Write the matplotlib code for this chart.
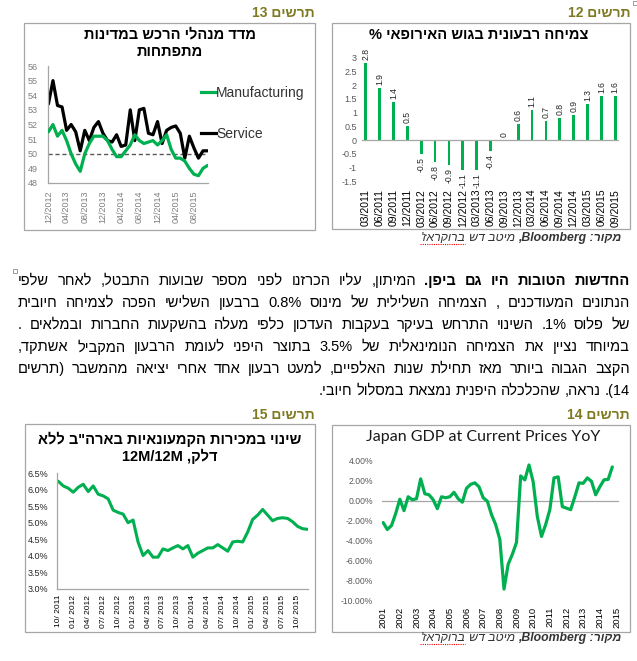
import re
import matplotlib
matplotlib.use('Agg')
import matplotlib.pyplot as plt
from matplotlib.patches import Rectangle
from matplotlib.lines import Line2D
from matplotlib.ticker import FuncFormatter

HEB = ['Liberation Sans', 'DejaVu Sans']
plt.rcParams['font.family'] = HEB

# ---------------- data ----------------
# Chart 13: PMI in emerging markets (monthly, 12/2012 .. 11/2015)
pmi_manufacturing = [51.5, 52.0, 51.2, 51.6, 50.9, 50.0, 49.3, 48.8, 50.0, 50.7,
                     51.2, 51.2, 51.2, 50.9, 50.3, 49.8, 49.8, 50.2, 50.6, 51.3,
                     50.9, 50.7, 50.8, 50.9, 50.6, 50.9, 51.3, 50.3, 49.7, 49.7,
                     49.5, 49.0, 48.6, 48.5, 49.0, 49.2]
pmi_service = [53.4, 55.0, 53.3, 53.2, 51.6, 52.0, 51.5, 50.2, 51.6, 50.9,
               51.8, 52.2, 51.4, 50.9, 50.8, 51.3, 50.5, 50.6, 53.0, 50.9,
               53.0, 53.1, 51.4, 51.3, 52.2, 50.7, 51.6, 51.8, 51.9, 51.4,
               49.7, 51.2, 50.4, 49.7, 50.2, 50.2]
pmi_tick_labels = ['12/2012', '04/2013', '08/2013', '12/2013', '04/2014',
                   '08/2014', '12/2014', '04/2015', '08/2015']
pmi_tick_every = 4
pmi_yticks = [48, 49, 50, 51, 52, 53, 54, 55, 56]
pmi_reference = 50

# Chart 12: Euro area quarterly growth
ez_quarters = ['03/2011', '06/2011', '09/2011', '12/2011', '03/2012', '06/2012',
               '09/2012', '12/2012', '03/2013', '06/2013', '09/2013', '12/2013',
               '03/2014', '06/2014', '09/2014', '12/2014', '03/2015', '06/2015',
               '09/2015']
ez_growth = [2.8, 1.9, 1.4, 0.5, -0.5, -0.8, -0.9, -1.1, -1.1, -0.4, 0,
             0.6, 1.1, 0.7, 0.8, 0.9, 1.3, 1.6, 1.6]
ez_yticks = [-1.5, -1, -0.5, 0, 0.5, 1, 1.5, 2, 2.5, 3]

# Chart 15: US retail sales ex fuel, 12M/12M (monthly, 10/2011 .. 12/2015)
retail_tick_labels = ['10/ 2011', '01/ 2012', '04/ 2012', '07/ 2012', '10/ 2012',
                      '01/ 2013', '04/ 2013', '07/ 2013', '10/ 2013', '01/ 2014',
                      '04/ 2014', '07/ 2014', '10/ 2014', '01/ 2015', '04/ 2015',
                      '07/ 2015', '10/ 2015']
retail_tick_every = 3
retail_growth = [6.25, 6.11, 6.04, 5.92, 6.07, 6.16, 5.94, 6.11, 5.86, 5.81,
                 5.72, 5.38, 5.31, 5.26, 5.00, 5.08, 4.42, 4.01, 4.16, 3.96,
                 3.96, 4.21, 4.16, 4.24, 4.31, 4.21, 4.31, 3.96, 4.08, 4.16,
                 4.24, 4.24, 4.34, 4.24, 4.14, 4.42, 4.44, 4.42, 4.72, 5.10,
                 5.23, 5.40, 5.23, 5.06, 5.13, 5.15, 5.13, 5.03, 4.89, 4.82,
                 4.80]
retail_yticks = [3.0, 3.5, 4.0, 4.5, 5.0, 5.5, 6.0, 6.5]

# Chart 14: Japan GDP at current prices YoY (quarterly, 2001Q1 ..)
gdp_years = ['2001', '2002', '2003', '2004', '2005', '2006', '2007', '2008',
             '2009', '2010', '2011', '2012', '2013', '2014', '2015']
gdp_tick_every = 4
japan_gdp = [-2.2, -2.9, -2.5, -1.3, 0.15, -1.0, 0.4, 0.1, 0.2, 2.2,
             0.7, 0.6, 0.1, -0.8, 0.4, 0.3, 0.4, 0.85, 0.2, -0.15,
             1.25, 1.65, 1.8, 1.4, 0.3, -0.05, -1.4, -2.4, -3.9, -8.9,
             -6.4, -5.4, -4.2, 2.5, 2.1, 3.6, 1.9, -1.6, -3.6, -2.4,
             -0.9, 2.3, 2.4, -0.6, -0.75, -0.9, 0.4, 1.8, 1.75, 2.3,
             1.95, 0.6, 1.4, 2.1, 2.15, 3.4]
gdp_yticks = [-10, -8, -6, -4, -2, 0, 2, 4]

# Texts
header13 = 'תרשים 13'
header12 = 'תרשים 12'
header15 = 'תרשים 15'
header14 = 'תרשים 14'
title13 = ['מדד מנהלי הרכש במדינות', 'מתפתחות']
title12 = 'צמיחה רבעונית בגוש האירופאי %'
title15 = ['שינוי במכירות הקמעונאיות בארה"ב ללא', 'דלק, 12M/12M']
title14 = 'Japan GDP at Current Prices YoY'
legend13 = ['Manufacturing', 'Service']
source_parts = ['מקור: Bloomberg,', 'מיטב דש', "ברוקראז'"]
para_bold = 'החדשות הטובות היו גם ביפן.'
para_lines = [
    'החדשות הטובות היו גם ביפן. המיתון, עליו הכרזנו לפני מספר שבועות התבטל, לאחר שלפי',
    'הנתונים המעודכנים , הצמיחה השלילית של מינוס 0.8% ברבעון השלישי הפכה לצמיחה חיובית',
    'של פלוס 1%. השינוי התרחש בעיקר בעקבות העדכון כלפי מעלה בהשקעות החברות ובמלאים .',
    'במיוחד נציין את הצמיחה הנומינאלית של 3.5% בתוצר היפני לעומת הרבעון המקביל אשתקד,',
    'הקצב הגבוה ביותר מאז תחילת שנות האלפיים, למעט רבעון אחד אחרי יציאה מהמשבר (תרשים',
    '14). נראה, שהכלכלה היפנית נמצאת במסלול חיובי.',
]

GREEN = '#00b050'
HEADER = '#7f7a22'
FRAME = '#a6a6a6'


def vis(s):
    """Logical (RTL) string -> visual order for left-to-right rendering."""
    toks = re.findall(r"[A-Za-z0-9](?:[A-Za-z0-9./%]*[A-Za-z0-9%])?|.", s)
    out = []
    for t in toks:
        if re.match(r"[A-Za-z0-9]", t):
            out.append(t)
        else:
            out.append({'(': ')', ')': '('}.get(t, t))
    return ''.join(reversed(out))


W, H = 637, 661
fig = plt.figure(figsize=(W / 100, H / 100), dpi=100)
fig.patch.set_facecolor('white')
renderer = fig.canvas.get_renderer()


def fx(x):
    return x / W


def fy(y):
    return 1 - y / H


def add_ax(l, t, r, b):
    ax = fig.add_axes([l / W, 1 - b / H, (r - l) / W, (b - t) / H])
    ax.set_facecolor('none')
    return ax


def frame(l, t, r, b):
    fig.patches.append(Rectangle((fx(l), fy(b)), (r - l) / W, (b - t) / H,
                                 transform=fig.transFigure, fill=False,
                                 ec=FRAME, lw=0.9))


def htext(x, y, s, **kw):
    return fig.text(fx(x), fy(y), vis(s), **kw)


def width_px(t):
    return t.get_window_extent(renderer).width


# ---------------- frames & headers ----------------
frame(24, 23, 315, 230)
frame(332, 23, 630, 229)
frame(25, 424, 315, 632)
frame(332, 425, 630, 632)

hkw = dict(fontsize=10, fontweight='bold', color=HEADER, ha='right', va='center')
htext(315, 13, header13, **hkw)
htext(630, 13, header12, **hkw)
htext(315, 415, header15, **hkw)
htext(630, 415, header14, **hkw)

tkw = dict(fontsize=10.5, fontweight='bold', color='black', ha='center', va='center')
htext(170, 34, title13[0], **tkw)
htext(170, 52, title13[1], **tkw)
htext(479, 35, title12, **tkw)
htext(170, 439, title15[0], **tkw)
htext(170, 456, title15[1], **tkw)
fig.text(fx(483), fy(437), title14, fontsize=11.5, family=['Lato', 'DejaVu Sans'],
         color='#1a1a1a', ha='center', va='center')

# ---------------- Chart 13 ----------------
ax = add_ax(47.5, 66, 208, 183)
xs = list(range(len(pmi_manufacturing)))
ax.axhline(pmi_reference, color='#595959', lw=1.0, ls=(0, (3, 2)), zorder=1)
l1, = ax.plot(xs, pmi_manufacturing, color=GREEN, lw=2.3,
              solid_joinstyle='round', solid_capstyle='round', zorder=3)
l2, = ax.plot(xs, pmi_service, color='black', lw=2.3,
              solid_joinstyle='round', solid_capstyle='round', zorder=2)
ax.set_xlim(-0.2, 35.1)
ax.set_ylim(48, 56)
ax.set_yticks(pmi_yticks)
ax.set_xticks(xs[::pmi_tick_every][:len(pmi_tick_labels)])
ax.set_xticklabels(pmi_tick_labels, rotation=90)
for s in ['top', 'right']:
    ax.spines[s].set_visible(False)
for s in ['left', 'bottom']:
    ax.spines[s].set_color(FRAME)
    ax.spines[s].set_linewidth(0.9)
ax.tick_params(length=0)
ax.tick_params(axis='y', pad=7, labelsize=6.5, labelcolor='#7f7f7f')
ax.tick_params(axis='x', pad=5.5, labelsize=6.5, labelcolor='#7f7f7f')
leg = ax.legend([Line2D([], [], color=GREEN, lw=2.3), Line2D([], [], color='black', lw=2.3)],
                legend13, loc='center left', bbox_to_anchor=(fx(201), fy(113.5)),
                bbox_transform=fig.transFigure, frameon=False, handlelength=1.1,
                handletextpad=0.0, labelspacing=1.95, borderaxespad=0, borderpad=0,
                prop={'size': 10, 'family': HEB})
for t in leg.get_texts():
    t.set_color('#333333')

# ---------------- Chart 12 ----------------
ax = add_ax(362, 57.7, 619, 181.2)
pos = list(range(len(ez_growth)))
ax.bar(pos, ez_growth, width=0.2, color=GREEN, zorder=2)
ax.axhline(0, color=FRAME, lw=0.9, zorder=3)
for p, v in zip(pos, ez_growth):
    if v >= 0:
        ax.annotate(f'{v:g}', (p, v), xytext=(0, 2.2), textcoords='offset points',
                    rotation=90, ha='center', va='bottom', fontsize=6.2,
                    color='#262626', annotation_clip=False)
    else:
        ax.annotate(f'{v:g}', (p, v), xytext=(0, -2.2), textcoords='offset points',
                    rotation=90, ha='center', va='top', fontsize=6.2,
                    color='#262626', annotation_clip=False)
ax.set_xlim(-0.27, len(ez_growth) - 1 + 0.27)
ax.set_ylim(-1.5, 3)
ax.set_yticks(ez_yticks)
ax.yaxis.set_major_formatter(FuncFormatter(lambda v, p: f'{v:g}'))
ax.set_xticks(pos)
ax.set_xticklabels(ez_quarters, rotation=90)
for s in ax.spines.values():
    s.set_visible(False)
ax.tick_params(length=0)
ax.tick_params(axis='y', pad=3.6, labelsize=6.5, labelcolor='#595959')
ax.tick_params(axis='x', pad=5.5, labelsize=7.5, labelcolor='black')

# ---------------- Chart 15 ----------------
ax = add_ax(57.3, 473, 308, 589)
xs = list(range(len(retail_growth)))
ax.plot(xs, retail_growth, color=GREEN, lw=2.2, solid_joinstyle='round',
        solid_capstyle='round')
ax.set_xlim(-0.2, 50.1)
ax.set_ylim(3.0, 6.5)
ax.set_yticks(retail_yticks)
ax.yaxis.set_major_formatter(FuncFormatter(lambda v, p: f'{v:.1f}%'))
ax.set_xticks(xs[::retail_tick_every][:len(retail_tick_labels)])
ax.set_xticklabels(retail_tick_labels, rotation=90)
for s in ['top', 'right']:
    ax.spines[s].set_visible(False)
for s in ['left', 'bottom']:
    ax.spines[s].set_color(FRAME)
    ax.spines[s].set_linewidth(0.9)
ax.tick_params(length=0)
ax.tick_params(axis='y', pad=6.5, labelsize=6.5, labelcolor='#262626')
ax.tick_params(axis='x', pad=4.3, labelsize=6.0, labelcolor='black')

# ---------------- Chart 14 ----------------
ax = add_ax(381.5, 461, 619, 600)
xs = list(range(len(japan_gdp)))
ax.axhline(0, color=FRAME, lw=0.9, zorder=1)
ax.plot(xs, japan_gdp, color=GREEN, lw=2.3, solid_joinstyle='round',
        solid_capstyle='round', zorder=2)
ax.set_xlim(-0.4, 56.6)
ax.set_ylim(-10, 4)
ax.set_yticks(gdp_yticks)
ax.yaxis.set_major_formatter(FuncFormatter(lambda v, p: f'{v:.2f}%'))
ax.set_xticks([i * gdp_tick_every for i in range(len(gdp_years))])
ax.set_xticklabels(gdp_years, rotation=90)
for s in ax.spines.values():
    s.set_visible(False)
ax.tick_params(length=0)
ax.tick_params(axis='y', pad=6, labelsize=6.2, labelcolor='#595959')
ax.tick_params(axis='x', pad=4.8, labelsize=6.8, labelcolor='black')


# ---------------- sources ----------------
def source(y, right):
    x = right
    styles = [dict(fontweight='bold', fontstyle='italic'),
              dict(fontstyle='italic'), dict(fontstyle='italic')]
    sp = 3.2
    last = None
    for part, st in zip(source_parts, styles):
        t = fig.text(fx(x), fy(y), vis(part), fontsize=8.8, color='#333333',
                     ha='right', va='center', **st)
        w = width_px(t)
        last = (x - w, x)
        x -= w + sp
    fig.lines.append(Line2D([fx(last[0]), fx(last[1])], [fy(y + 6), fy(y + 6)],
                            transform=fig.transFigure, color='red', lw=0.8,
                            ls=(0, (1, 1))))


source(238, 621)
source(638, 621)

# ---------------- paragraph ----------------
PSIZE = 10.5
LEFT, RIGHT = 18, 630
line_y = [281, 303, 325, 347, 369, 391]
n_bold = len(para_bold.split(' '))
for li, (line, y) in enumerate(zip(para_lines, line_y)):
    words = line.split(' ')
    texts = []
    for wi, w in enumerate(words):
        bold = (li == 0 and wi < n_bold)
        t = fig.text(0, fy(y), vis(w), fontsize=PSIZE,
                     fontweight='bold' if bold else 'normal', color='black',
                     ha='right', va='center')
        texts.append(t)
    widths = [width_px(t) for t in texts]
    if li < len(para_lines) - 1:
        gap = (RIGHT - LEFT - sum(widths)) / (len(words) - 1)
    else:
        gap = 0.278 * PSIZE * 100 / 72
    x = RIGHT
    for t, w in zip(texts, widths):
        t.set_x(fx(x))
        x -= w + gap

# small anchor markers
for (mx, my) in [(15, 271), (635, 3)]:
    fig.patches.append(Rectangle((fx(mx - 2), fy(my + 2)), 4 / W, 4 / H,
                                 transform=fig.transFigure, fill=False,
                                 ec='#8c8c8c', lw=0.6))

fig.savefig('out.png', dpi=100, facecolor='white')
